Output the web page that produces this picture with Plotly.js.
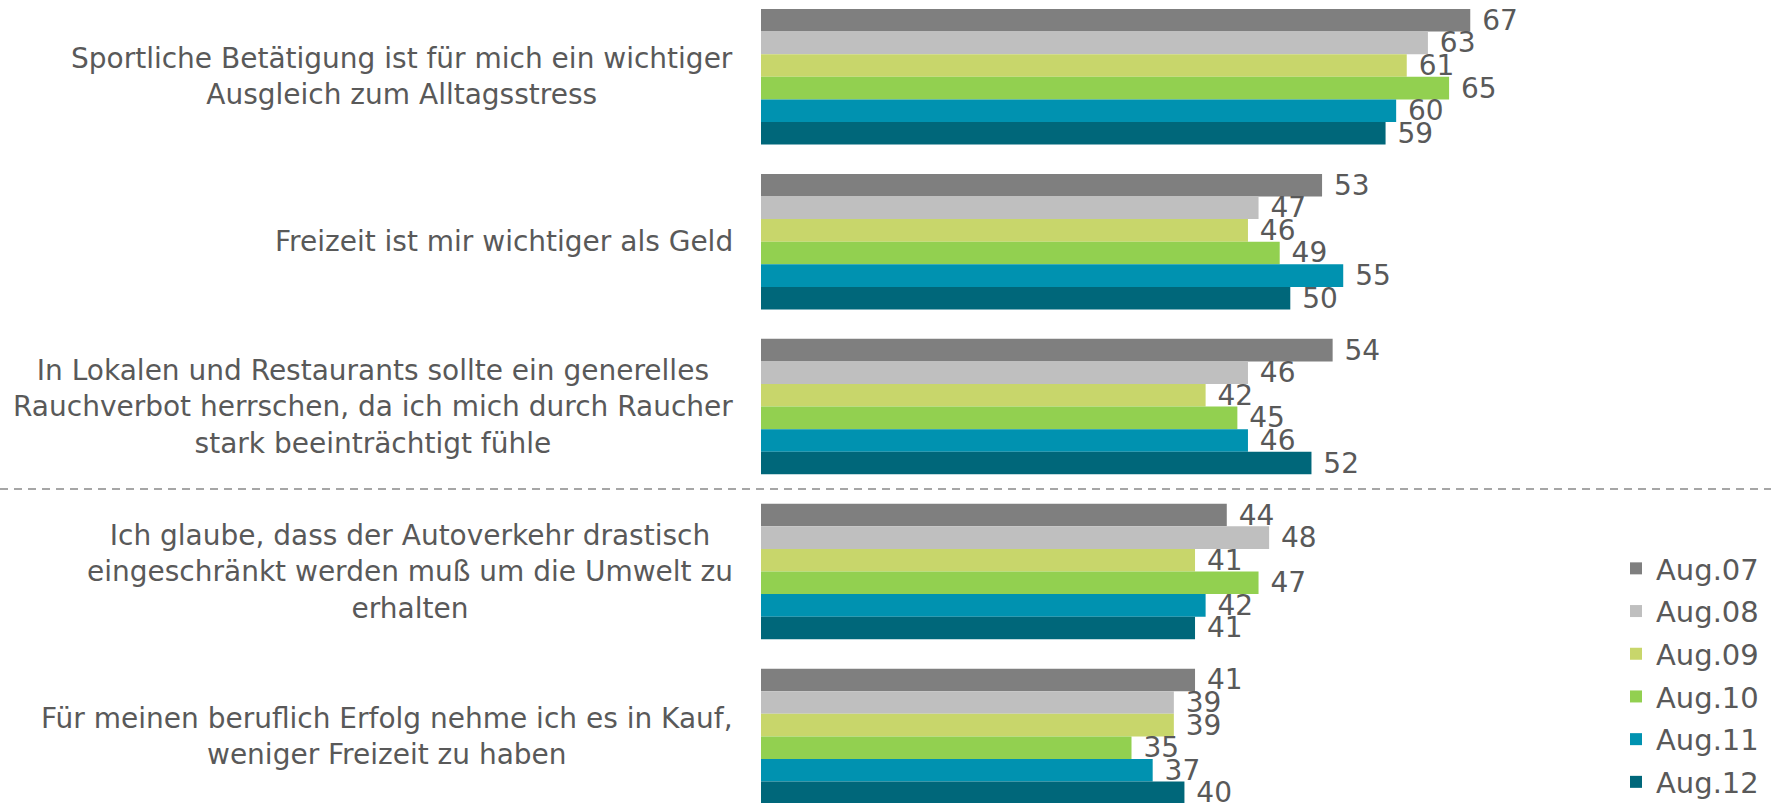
<!DOCTYPE html>
<html>
<head>
<meta charset="utf-8">
<script src="https://cdn.plot.ly/plotly-3.0.1.min.js"></script>
<style>html,body{margin:0;padding:0;background:#fff;}#chart{width:1775px;height:803px;}</style>
</head>
<body>
<div id="chart"></div>
<script>
// ---- data ----
const categories = [
  "Sportliche Betätigung ist für mich ein wichtiger<br>Ausgleich zum Alltagsstress",
  "Freizeit ist mir wichtiger als Geld",
  "In Lokalen und Restaurants sollte ein generelles<br>Rauchverbot herrschen, da ich mich durch Raucher<br>stark beeinträchtigt fühle",
  "Ich glaube, dass der Autoverkehr drastisch<br>eingeschränkt werden muß um die Umwelt zu<br>erhalten",
  "Für meinen beruflich Erfolg nehme ich es in Kauf,<br>weniger Freizeit zu haben"
];
const seriesNames = ["Aug.07", "Aug.08", "Aug.09", "Aug.10", "Aug.11", "Aug.12"];
const aug07 = [67, 53, 54, 44, 41];
const aug08 = [63, 47, 46, 48, 39];
const aug09 = [61, 46, 42, 41, 39];
const aug10 = [65, 49, 45, 47, 35];
const aug11 = [60, 55, 46, 42, 37];
const aug12 = [59, 50, 52, 41, 40];
const seriesValues = [aug07, aug08, aug09, aug10, aug11, aug12];
const seriesColors = ["#7f7f7f", "#bfbfbf", "#c8d66b", "#92d050", "#0092b0", "#00677a"];

// ---- layout constants ----
const W = 1775, H = 803;
const L = 761;
const pxPerUnit = 10.586;
const pitch = 164.9;
const firstCenter = 76.8;
const plotW = W - L;
const yTop = -firstCenter / pitch;
const yBottom = yTop + H / pitch;
const fontFam = "DejaVu Sans, Verdana, sans-serif";
const txtColor = "#595959";

const catIdx = categories.map((c, i) => i);

const traces = seriesNames.map((name, k) => ({
  type: "bar",
  orientation: "h",
  name: name,
  legendgroup: name,
  y: catIdx,
  x: seriesValues[k],
  marker: { color: seriesColors[k], line: { width: 0 } },
  texttemplate: "\u00a0%{x}",
  textposition: "outside",
  constraintext: "none",
  cliponaxis: false,
  textfont: { family: fontFam, size: 28, color: txtColor },
  hoverinfo: "skip"
}));

const annotations = [];
const labelRightPx = 735;
categories.forEach((c, i) => {
  annotations.push({
    xref: "paper", yref: "y",
    x: (labelRightPx - L) / plotW, y: i,
    xanchor: "right", yanchor: "middle",
    align: "center",
    text: c,
    showarrow: false,
    font: { family: fontFam, size: 28, color: txtColor }
  });
});

const layout = {
  width: W, height: H,
  margin: { l: L, r: 0, t: 0, b: 0, pad: 0, autoexpand: false },
  paper_bgcolor: "#ffffff",
  plot_bgcolor: "#ffffff",
  barmode: "group",
  bargap: 0.178,
  bargroupgap: 0,
  showlegend: true,
  legend: {
    x: (1616 - L) / plotW, y: 1 - 543 / H,
    xanchor: "left", yanchor: "top",
    font: { family: fontFam, size: 29, color: txtColor },
    bgcolor: "rgba(0,0,0,0)",
    traceorder: "grouped",
    tracegroupgap: 2
  },
  xaxis: {
    range: [0, plotW / pxPerUnit],
    showgrid: false, zeroline: false, showticklabels: false, showline: false, ticks: ""
  },
  yaxis: {
    range: [yBottom, yTop],
    showgrid: false, zeroline: false, showticklabels: false, showline: false, ticks: ""
  },
  shapes: [{
    type: "line", xref: "paper", yref: "y",
    x0: (0 - L) / plotW, x1: (1771 - L) / plotW,
    y0: 2.5, y1: 2.5,
    line: { color: "#a6a6a6", width: 2, dash: "8px,6px" }
  }],
  annotations: annotations
};

Plotly.newPlot("chart", traces, layout, { displayModeBar: false, staticPlot: true });
</script>
</body>
</html>
